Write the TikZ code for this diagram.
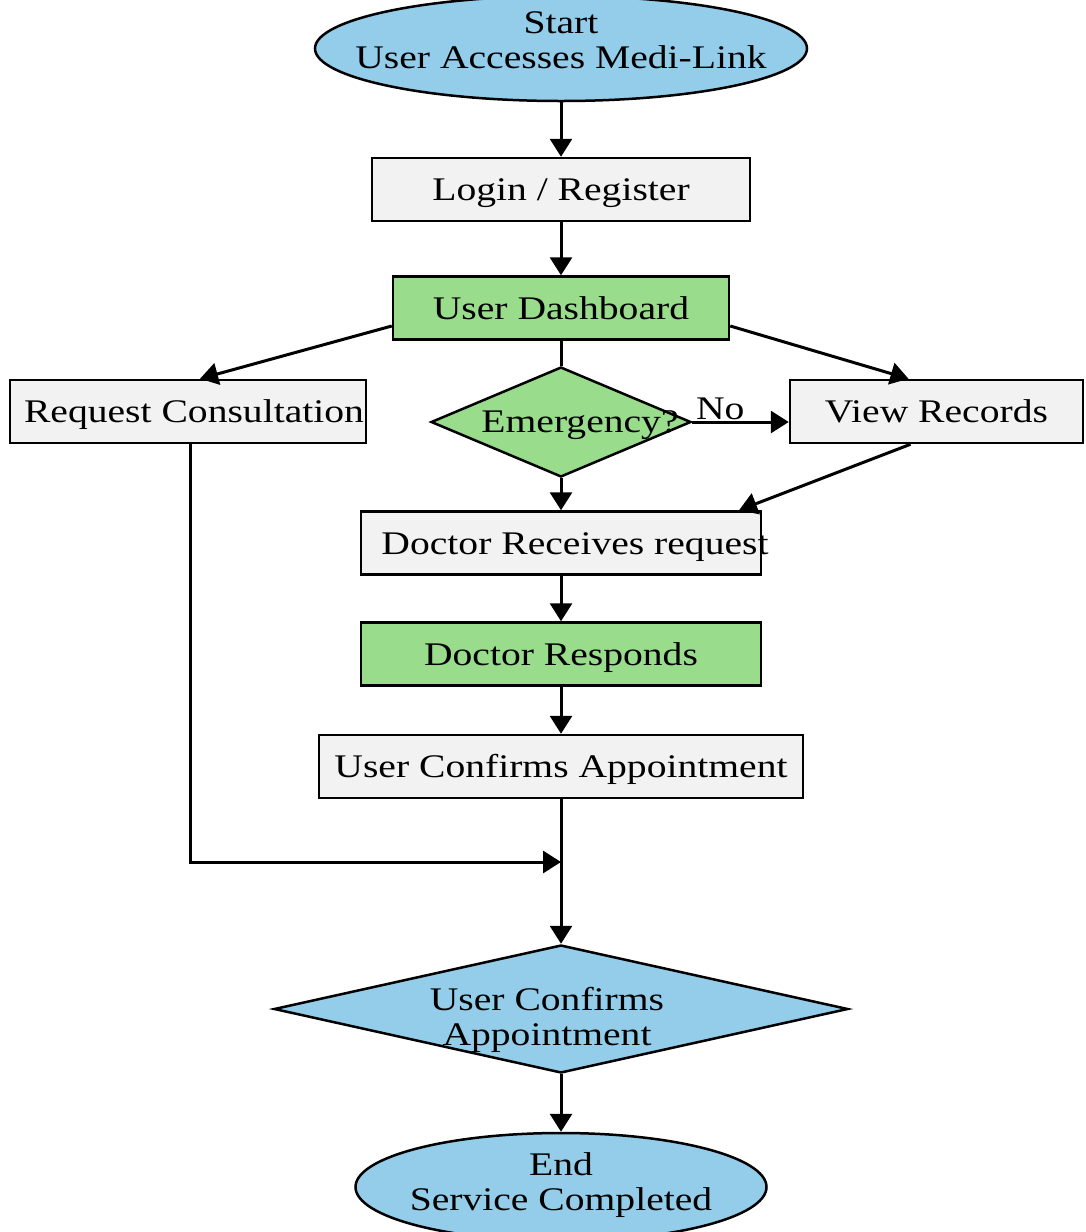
\documentclass[tikz,border=0pt]{standalone}
\usepackage{fontspec}
\setmainfont{Liberation Serif}[FakeStretch=1.2]
\usetikzlibrary{shapes.geometric,arrows.meta}
\definecolor{bluef}{HTML}{93CDEA}
\definecolor{greenf}{HTML}{98DC8C}
\definecolor{grayf}{HTML}{F2F2F2}
\begin{document}
\begin{tikzpicture}[x=1pt,y=-1pt,
  every node/.style={font=\fontsize{33}{35}\selectfont},
  boxnode/.style={draw, line width=2.5pt, rectangle, inner xsep=-40pt, inner ysep=0pt,
                  minimum height=63, text height=25pt, text depth=3pt},
  ellnode/.style={draw, line width=2.5pt, ellipse, inner sep=0pt, fill=bluef},
  dianode/.style={draw, line width=2.5pt, diamond, inner sep=0pt},
  txt/.style={font=\fontsize{33}{35}\selectfont, align=center, inner sep=0pt},
  conn/.style={line width=3pt, -{Triangle[length=18pt,width=22pt]}},
  plainline/.style={line width=3pt}
]
\useasboundingbox (0,0) rectangle (1085,1232);

\node[ellnode, minimum width=492, minimum height=105,
      label={[txt,yshift=8.5pt]center:{Start\\User Accesses Medi-Link}}] (start) at (561,48.5) {};
\node[boxnode, fill=grayf, minimum width=378] (login) at (561,189.5) {Login / Register};
\node[boxnode, fill=greenf, minimum width=336] (dash) at (561,308) {User Dashboard};
\node[boxnode, fill=grayf, minimum width=356] (reqc) at (188,411.5) {\hspace*{12pt}Request Consultation};
\node[boxnode, fill=grayf, minimum width=293] (view) at (936.5,411.5) {View Records};
\node[dianode, fill=greenf, minimum width=260, minimum height=110,
      label={[txt,xshift=19pt,yshift=-3pt]center:{Emergency?}}] (emerg) at (561,422) {};
\node[boxnode, fill=grayf, minimum width=400] (drr) at (561,543) {\hspace*{28pt}Doctor Receives request};
\node[boxnode, fill=greenf, minimum width=400] (dresp) at (561,654) {Doctor Responds};
\node[boxnode, fill=grayf, minimum width=484] (uca) at (561,766.5) {User Confirms Appointment};
\node[dianode, fill=bluef, minimum width=574, minimum height=128,
      label={[txt,xshift=-14pt,yshift=-11pt]center:{User Confirms\\Appointment}}] (ucd) at (561,1009) {};
\node[ellnode, minimum width=411, minimum height=108,
      label={[txt,yshift=2pt]center:{End\\Service Completed}}] (endn) at (561,1187) {};

\draw[conn] (start.south) -- (login.north);
\draw[conn] (login.south) -- (dash.north);
\draw[conn] ([yshift=-18pt]dash.west) -- ([xshift=12pt]reqc.north);
\draw[conn] ([yshift=-18pt]dash.east) -- ([xshift=-28pt]view.north);
\draw[plainline] (dash.south) -- (emerg.north);
\draw[conn] (emerg.east) -- (emerg.east -| view.west)
   node[pos=0.29, above, inner sep=1pt] (no) {No};
\draw[conn] (emerg.south) -- (drr.north);
\draw[conn] ([xshift=-26pt]view.south) -- ([xshift=178pt]drr.north);
\draw[conn] (drr.south) -- (dresp.north);
\draw[conn] (dresp.south) -- (uca.north);
\coordinate (join) at (561,862);
\draw[conn] ([xshift=2pt]reqc.south) |- (join);
\draw[conn] (uca.south) -- (ucd.north);
\draw[conn] (ucd.south) -- (endn.north);
\end{tikzpicture}
\end{document}
